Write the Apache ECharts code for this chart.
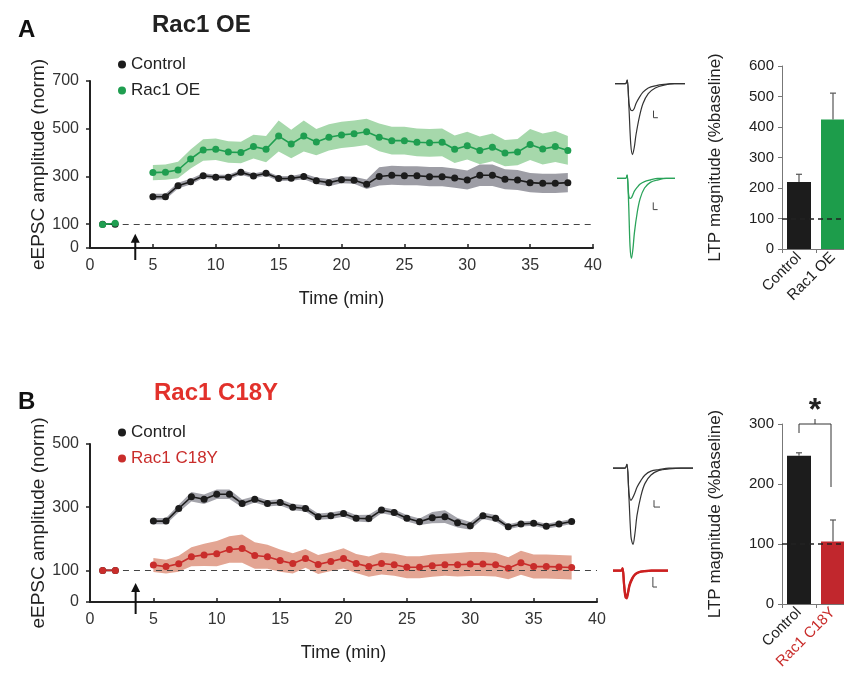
<!DOCTYPE html>
<html>
<head>
<meta charset="utf-8">
<script src="https://cdn.jsdelivr.net/npm/echarts@6/dist/echarts.min.js"></script>
<style>
html, body { margin: 0; padding: 0; background: #fff; }
#main { width: 844px; height: 681px; }
</style>
</head>
<body>
<div id="main"></div>
<script>
// time points (min) after induction, and baseline points
var minutes = [5, 6, 7, 8, 9, 10, 11, 12, 13, 14, 15, 16, 17, 18, 19, 20, 21, 22,
               23, 24, 25, 26, 27, 28, 29, 30, 31, 32, 33, 34, 35, 36, 37, 38];
var baseMinutes = [1, 2];

// panel A : Rac1 OE
var oeControl = [215, 215, 261, 278, 303, 297, 297, 317, 302, 313, 291, 292, 300, 282, 274, 286, 284, 267,
                 300, 305, 303, 303, 299, 299, 293, 285, 305, 305, 288, 285, 274, 271, 271, 274];
var oeControlSem = [12, 12, 12, 12, 10, 10, 10, 10, 10, 10, 10, 10, 12, 14, 15, 15, 15, 20,
                    38, 40, 40, 40, 40, 40, 40, 40, 45, 45, 42, 42, 40, 40, 40, 40];
var oeRac1 = [316, 318, 327, 373, 411, 414, 402, 400, 425, 414, 469, 436, 469, 444, 464, 474, 479, 487,
              464, 450, 450, 443, 441, 443, 414, 429, 409, 422, 398, 402, 434, 415, 425, 409];
var oeRac1Sem = [32, 32, 35, 40, 45, 45, 45, 45, 50, 55, 65, 60, 65, 55, 55, 55, 55, 55,
                 58, 58, 58, 58, 58, 58, 58, 58, 58, 58, 55, 55, 65, 65, 65, 60];
var oeBaseControl = [100, 100];
var oeBaseRac1 = [98, 104];

// panel B : Rac1 C18Y
var cyControl = [256, 256, 296, 333, 325, 341, 341, 312, 325, 312, 315, 300, 296, 270, 273, 280, 265, 264,
                 291, 283, 265, 254, 267, 270, 251, 241, 273, 265, 238, 247, 249, 240, 247, 255];
var cyControlSem = [10, 10, 12, 15, 15, 15, 15, 12, 10, 10, 10, 10, 10, 10, 10, 10, 10, 12,
                    10, 10, 10, 10, 18, 20, 15, 12, 10, 10, 8, 8, 8, 8, 8, 8];
var cyMutant = [117, 112, 121, 143, 149, 153, 166, 169, 147, 143, 131, 122, 138, 119, 128, 138, 122, 112,
                122, 118, 110, 110, 115, 118, 118, 120, 120, 118, 107, 124, 112, 112, 111, 109];
var cyMutantSem = [22, 22, 25, 30, 35, 40, 42, 45, 42, 38, 35, 32, 30, 30, 30, 32, 30, 32,
                   35, 35, 35, 35, 35, 35, 37, 38, 38, 37, 35, 38, 38, 38, 38, 38];
var cyBaseControl = [100, 100];
var cyBaseMutant = [100, 100];

var stimMinute = 3.6;
var arrowTip = 60;

// LTP magnitude bars
var barCatsA = ['Control', 'Rac1 OE'];
var barValsA = [220, 425];
var barErrA = [245, 511];
var barCatsB = ['Control', 'Rac1 C18Y'];
var barValsB = [247, 104];
var barErrB = [252, 140];
// significance bracket: top level, left leg end, right leg end, star level
var sigBracketB = [300, 285, 195, 322];

// example traces (ms, normalised current)
var traceT = [0, 6, 7, 8, 9, 10, 11, 12, 14, 16, 19, 23, 28, 34, 40];
var trOeCtrlBig   = [0, 0, 0.05, -0.35, -0.85, -1.0, -0.9, -0.72, -0.46, -0.28, -0.14, -0.06, -0.02, 0, 0];
var trOeCtrlSmall = [0, 0, 0.05, -0.28, -0.37, -0.38, -0.35, -0.28, -0.19, -0.12, -0.06, -0.03, -0.01, 0, 0];
var trOeBig       = [0, 0, 0.04, -0.3, -0.85, -1.0, -0.88, -0.68, -0.42, -0.25, -0.12, -0.05, -0.02, 0, 0];
var trOeSmall     = [0, 0, 0.04, -0.2, -0.25, -0.24, -0.2, -0.16, -0.11, -0.07, -0.04, -0.02, 0, 0, 0];
var trCyCtrlBig   = [0, 0, 0.05, -0.4, -0.9, -1.0, -0.85, -0.62, -0.36, -0.2, -0.09, -0.03, -0.01, 0, 0];
var trCyCtrlSmall = [0, 0, 0.05, -0.33, -0.42, -0.38, -0.32, -0.25, -0.16, -0.09, -0.04, -0.02, 0, 0, 0];
var trCyBig       = [0, 0, 0.08, -0.5, -0.95, -1.0, -0.8, -0.55, -0.3, -0.15, -0.06, -0.02, 0, 0, 0];
var trCySmall     = [0, 0, 0.08, -0.45, -0.88, -0.92, -0.75, -0.5, -0.27, -0.13, -0.05, -0.02, 0, 0, 0];
var scaleBars = [
    [[22, -0.38], [22, -0.48], [24.5, -0.48]],
    [[25, -0.3], [25, -0.39], [28, -0.39]],
    [[20.5, -0.42], [20.5, -0.51], [23.5, -0.51]],
    [[29, -0.23], [29, -0.59], [32, -0.59]]
];

var BLACK = '#1c1c1c', GREEN = '#1f9e50', RED = '#c92d2b';
var FONT = 'Liberation Sans, Arial, sans-serif';

var chart = echarts.init(document.getElementById('main'));

/**
 * 曲线 + SEM 阴影带 + 基线点
 */
var timeCourse = function(grid, id, name, color, band, base, vals, sem){
    var pairs = function(xs, ys){
        return xs.map(function(x, i){ return [x, ys[i]]; });
    };
    return [{
        // SEM band as a single polygon through the axis scales
        type: 'custom', name: id + 'band', xAxisIndex: grid, yAxisIndex: grid,
        silent: true, z: 1,
        data: [[minutes[0], vals[0]]],
        renderItem: function(params, api){
            var pts = [];
            for (var i = 0; i < minutes.length; i++) {
                pts.push(api.coord([minutes[i], vals[i] + sem[i]]));
            }
            for (var j = minutes.length - 1; j >= 0; j--) {
                pts.push(api.coord([minutes[j], vals[j] - sem[j]]));
            }
            return { type: 'polygon', shape: { points: pts }, style: { fill: band } };
        }
    }, {
        type: 'line', name: id + 'base', xAxisIndex: grid, yAxisIndex: grid,
        symbol: 'circle', symbolSize: 7, z: 3,
        itemStyle: { color: color }, lineStyle: { color: color, width: 1.6 },
        data: pairs(baseMinutes, base)
    }, {
        type: 'line', name: name, xAxisIndex: grid, yAxisIndex: grid,
        symbol: 'circle', symbolSize: 7, z: 3,
        itemStyle: { color: color }, lineStyle: { color: color, width: 1.6 },
        data: pairs(minutes, vals)
    }];
};

var baselineDash = function(grid){
    return {
        type: 'line', name: 'dash' + grid, xAxisIndex: grid, yAxisIndex: grid, data: [],
        markLine: {
            silent: true, symbol: 'none', label: { show: false },
            lineStyle: { color: '#444', type: [6, 5], width: 1.2 },
            data: [[{ coord: [2.6, 100] }, { coord: [40, 100] }]]
        }
    };
};

var stimArrow = function(grid){
    return {
        type: 'custom', name: 'arrow' + grid, xAxisIndex: grid, yAxisIndex: grid, z: 4,
        data: [[stimMinute, arrowTip]],
        renderItem: function(params, api){
            var tip = api.coord([api.value(0), api.value(1)]);
            var zero = api.coord([api.value(0), 0]);
            var x = tip[0];
            return { type: 'group', children: [
                { type: 'line', shape: { x1: x, y1: zero[1] + 12, x2: x, y2: tip[1] + 5 },
                  style: { stroke: '#111', lineWidth: 2 } },
                { type: 'polygon', shape: { points: [[x, tip[1]], [x - 4.5, tip[1] + 9], [x + 4.5, tip[1] + 9]] },
                  style: { fill: '#111' } }
            ]};
        }
    };
};

var errorBars = function(grid, vals, tops){
    return {
        type: 'custom', name: 'err' + grid, xAxisIndex: grid, yAxisIndex: grid, z: 3,
        data: vals.map(function(v, i){ return [i, v, tops[i]]; }),
        renderItem: function(params, api){
            var lo = api.coord([api.value(0), api.value(1)]);
            var hi = api.coord([api.value(0), api.value(2)]);
            return { type: 'group', children: [
                { type: 'line', shape: { x1: lo[0], y1: lo[1], x2: hi[0], y2: hi[1] },
                  style: { stroke: '#555', lineWidth: 1.2 } },
                { type: 'line', shape: { x1: hi[0] - 3, y1: hi[1], x2: hi[0] + 3, y2: hi[1] },
                  style: { stroke: '#555', lineWidth: 1.2 } }
            ]};
        }
    };
};

var ltpBars = function(grid, vals, colors){
    return {
        type: 'bar', name: 'bars' + grid, xAxisIndex: grid, yAxisIndex: grid,
        barWidth: 24, z: 2,
        data: vals.map(function(v, i){ return { value: v, itemStyle: { color: colors[i] } }; }),
        markLine: {
            silent: true, symbol: 'none', label: { show: false },
            lineStyle: { color: '#222', type: [5, 4], width: 1.5 },
            data: [{ yAxis: 100 }]
        }
    };
};

var traceSeries = function(grid, ys, color, width){
    return {
        type: 'line', name: 'tr' + grid, xAxisIndex: grid, yAxisIndex: grid,
        symbol: 'none', smooth: 0.3, silent: true,
        lineStyle: { color: color, width: width },
        data: traceT.map(function(t, i){ return [t, ys[i]]; })
    };
};

var scaleBarSeries = function(grid, pts){
    return {
        type: 'line', name: 'sb' + grid, xAxisIndex: grid, yAxisIndex: grid,
        symbol: 'none', silent: true,
        lineStyle: { color: '#444', width: 1 },
        data: pts
    };
};

var lineGridAxes = function(ticks, max){
    return {
        x: {
            type: 'value', min: 0, max: 40, interval: 5,
            axisLine: { lineStyle: { color: '#222', width: 2 } },
            axisTick: { inside: true, length: 4, lineStyle: { color: '#222', width: 1.5 } },
            axisLabel: { fontFamily: FONT, fontSize: 16, color: '#333', margin: 10 },
            splitLine: { show: false },
            name: 'Time (min)', nameLocation: 'middle', nameGap: 42,
            nameTextStyle: { fontFamily: FONT, fontSize: 18, color: '#222' }
        },
        y: {
            type: 'value', min: 0, max: max,
            axisLine: { show: true, lineStyle: { color: '#222', width: 2 } },
            axisTick: { show: true, length: 4, customValues: ticks, lineStyle: { color: '#222', width: 1.5 } },
            axisLabel: { customValues: ticks, fontFamily: FONT, fontSize: 16, color: '#333', margin: 11 },
            splitLine: { show: false },
            name: 'eEPSC amplitude (norm)', nameLocation: 'middle', nameGap: 42, nameMoveOverlap: false,
            nameTextStyle: { fontFamily: FONT, fontSize: 19, color: '#222' }
        }
    };
};

var barGridAxes = function(cats, max){
    return {
        x: {
            type: 'category', data: cats,
            axisLine: { lineStyle: { color: '#777', width: 1 } },
            axisTick: { show: true, length: 4, lineStyle: { color: '#777' } },
            axisLabel: { rotate: 45, fontFamily: FONT, fontSize: 15, color: '#222', margin: 6, interval: 0 }
        },
        y: {
            type: 'value', min: 0, max: max, interval: 100,
            axisLine: { show: true, lineStyle: { color: '#777', width: 1 } },
            axisTick: { show: true, length: 4, lineStyle: { color: '#777' } },
            axisLabel: { fontFamily: FONT, fontSize: 15, color: '#222', margin: 8 },
            splitLine: { show: false },
            name: 'LTP magnitude (%baseline)', nameLocation: 'middle', nameGap: 58,
            nameTextStyle: { fontFamily: FONT, fontSize: 17, color: '#222' }
        }
    };
};

var traceAxes = function(min, max){
    return {
        x: { type: 'value', min: 0, max: 40, show: false },
        y: { type: 'value', min: min, max: max, show: false }
    };
};

var axA = lineGridAxes([0, 100, 300, 500, 700], 700);
var axB = lineGridAxes([0, 100, 300, 500], 500);
var bxA = barGridAxes(barCatsA, 600);
var bxB = barGridAxes(['Control', { value: 'Rac1 C18Y', textStyle: { color: RED } }], 300);
var tr = [traceAxes(-1.02, 0.08), traceAxes(-1.02, 0.08), traceAxes(-1.02, 0.08), traceAxes(-1.02, 0.2)];

var series = [].concat(
    timeCourse(0, 'oeC', 'Control', BLACK, '#9d9da5', oeBaseControl, oeControl, oeControlSem),
    timeCourse(0, 'oeR', 'Rac1 OE', GREEN, '#a6d8ab', oeBaseRac1, oeRac1, oeRac1Sem),
    [baselineDash(0), stimArrow(0)],
    timeCourse(1, 'cyC', 'Control', BLACK, '#a4a4ab', cyBaseControl, cyControl, cyControlSem),
    timeCourse(1, 'cyR', 'Rac1 C18Y', RED, '#e3a593', cyBaseMutant, cyMutant, cyMutantSem),
    [baselineDash(1), stimArrow(1)],
    [ltpBars(2, barValsA, [BLACK, '#1d9d4b']), errorBars(2, barValsA, barErrA)],
    [ltpBars(3, barValsB, [BLACK, '#c1272d']), errorBars(3, barValsB, barErrB)],
    [{
        type: 'custom', name: 'sig', xAxisIndex: 3, yAxisIndex: 3, z: 4,
        data: [sigBracketB],
        renderItem: function(params, api){
            var l = api.coord([0, api.value(0)]);
            var r = api.coord([1, api.value(0)]);
            var lEnd = api.coord([0, api.value(1)]);
            var rEnd = api.coord([1, api.value(2)]);
            var star = api.coord([0, api.value(3)]);
            var mx = (l[0] + r[0]) / 2 - 1;
            var st = { stroke: '#333', lineWidth: 1, fill: null };
            return { type: 'group', children: [
                { type: 'polyline', shape: { points: [[l[0], lEnd[1]], [l[0], l[1]], [r[0] - 2, r[1]], [r[0] - 2, rEnd[1]]] }, style: st },
                { type: 'line', shape: { x1: mx, y1: l[1], x2: mx, y2: l[1] - 5 }, style: st },
                { type: 'text', x: mx, y: star[1], style: { text: '*', fontSize: 32, fontWeight: 'bold',
                  fontFamily: FONT, fill: '#222', align: 'center', verticalAlign: 'middle' } }
            ]};
        }
    }],
    [traceSeries(4, trOeCtrlSmall, '#333', 1.2), traceSeries(4, trOeCtrlBig, '#333', 1.2), scaleBarSeries(4, scaleBars[0]),
     traceSeries(5, trOeSmall, '#2aa35a', 1.3), traceSeries(5, trOeBig, '#2aa35a', 1.3), scaleBarSeries(5, scaleBars[1]),
     traceSeries(6, trCyCtrlSmall, '#333', 1.2), traceSeries(6, trCyCtrlBig, '#333', 1.2), scaleBarSeries(6, scaleBars[2]),
     traceSeries(7, trCySmall, '#cc2020', 2.2), traceSeries(7, trCyBig, '#cc2020', 2.2), scaleBarSeries(7, scaleBars[3])]
);

var legendBase = {
    orient: 'vertical', left: 113, icon: 'circle', itemWidth: 8, itemHeight: 8, itemGap: 9,
    selectedMode: false,
    textStyle: { fontFamily: FONT, fontSize: 17, color: '#222' }
};

chart.setOption({
    animation: false,
    backgroundColor: '#fff',
    title: [
        { text: 'A', left: 13, top: 13, textStyle: { fontFamily: FONT, fontSize: 24, fontWeight: 'bold', color: '#111' } },
        { text: 'Rac1 OE', left: 147, top: 8, textStyle: { fontFamily: FONT, fontSize: 24, fontWeight: 'bold', color: '#222' } },
        { text: 'B', left: 13, top: 385, textStyle: { fontFamily: FONT, fontSize: 24, fontWeight: 'bold', color: '#111' } },
        { text: 'Rac1 C18Y', left: 149, top: 376, textStyle: { fontFamily: FONT, fontSize: 24, fontWeight: 'bold', color: '#e2312b' } }
    ],
    legend: [
        Object.assign({}, legendBase, { top: 51, data: ['Control', 'Rac1 OE'] }),
        Object.assign({}, legendBase, { top: 419, data: ['Control', { name: 'Rac1 C18Y', textStyle: { color: RED } }] })
    ],
    grid: [
        { left: 90, top: 81, width: 503, height: 167, outerBoundsMode: 'none' },
        { left: 90, top: 444, width: 507, height: 158, outerBoundsMode: 'none' },
        { left: 782, top: 66, width: 68, height: 183, outerBoundsMode: 'none' },
        { left: 782, top: 424, width: 68, height: 180, outerBoundsMode: 'none' },
        { left: 615, top: 78, width: 70, height: 78, outerBoundsMode: 'none' },
        { left: 617, top: 172, width: 58, height: 88, outerBoundsMode: 'none' },
        { left: 613, top: 462, width: 80, height: 84, outerBoundsMode: 'none' },
        { left: 613, top: 565, width: 55, height: 34, outerBoundsMode: 'none' }
    ],
    xAxis: [axA.x, axB.x, bxA.x, bxB.x, tr[0].x, tr[1].x, tr[2].x, tr[3].x].map(function(a, i){
        return Object.assign({ gridIndex: i }, a);
    }),
    yAxis: [axA.y, axB.y, bxA.y, bxB.y, tr[0].y, tr[1].y, tr[2].y, tr[3].y].map(function(a, i){
        return Object.assign({ gridIndex: i }, a);
    }),
    series: series
});
</script>
</body>
</html>
